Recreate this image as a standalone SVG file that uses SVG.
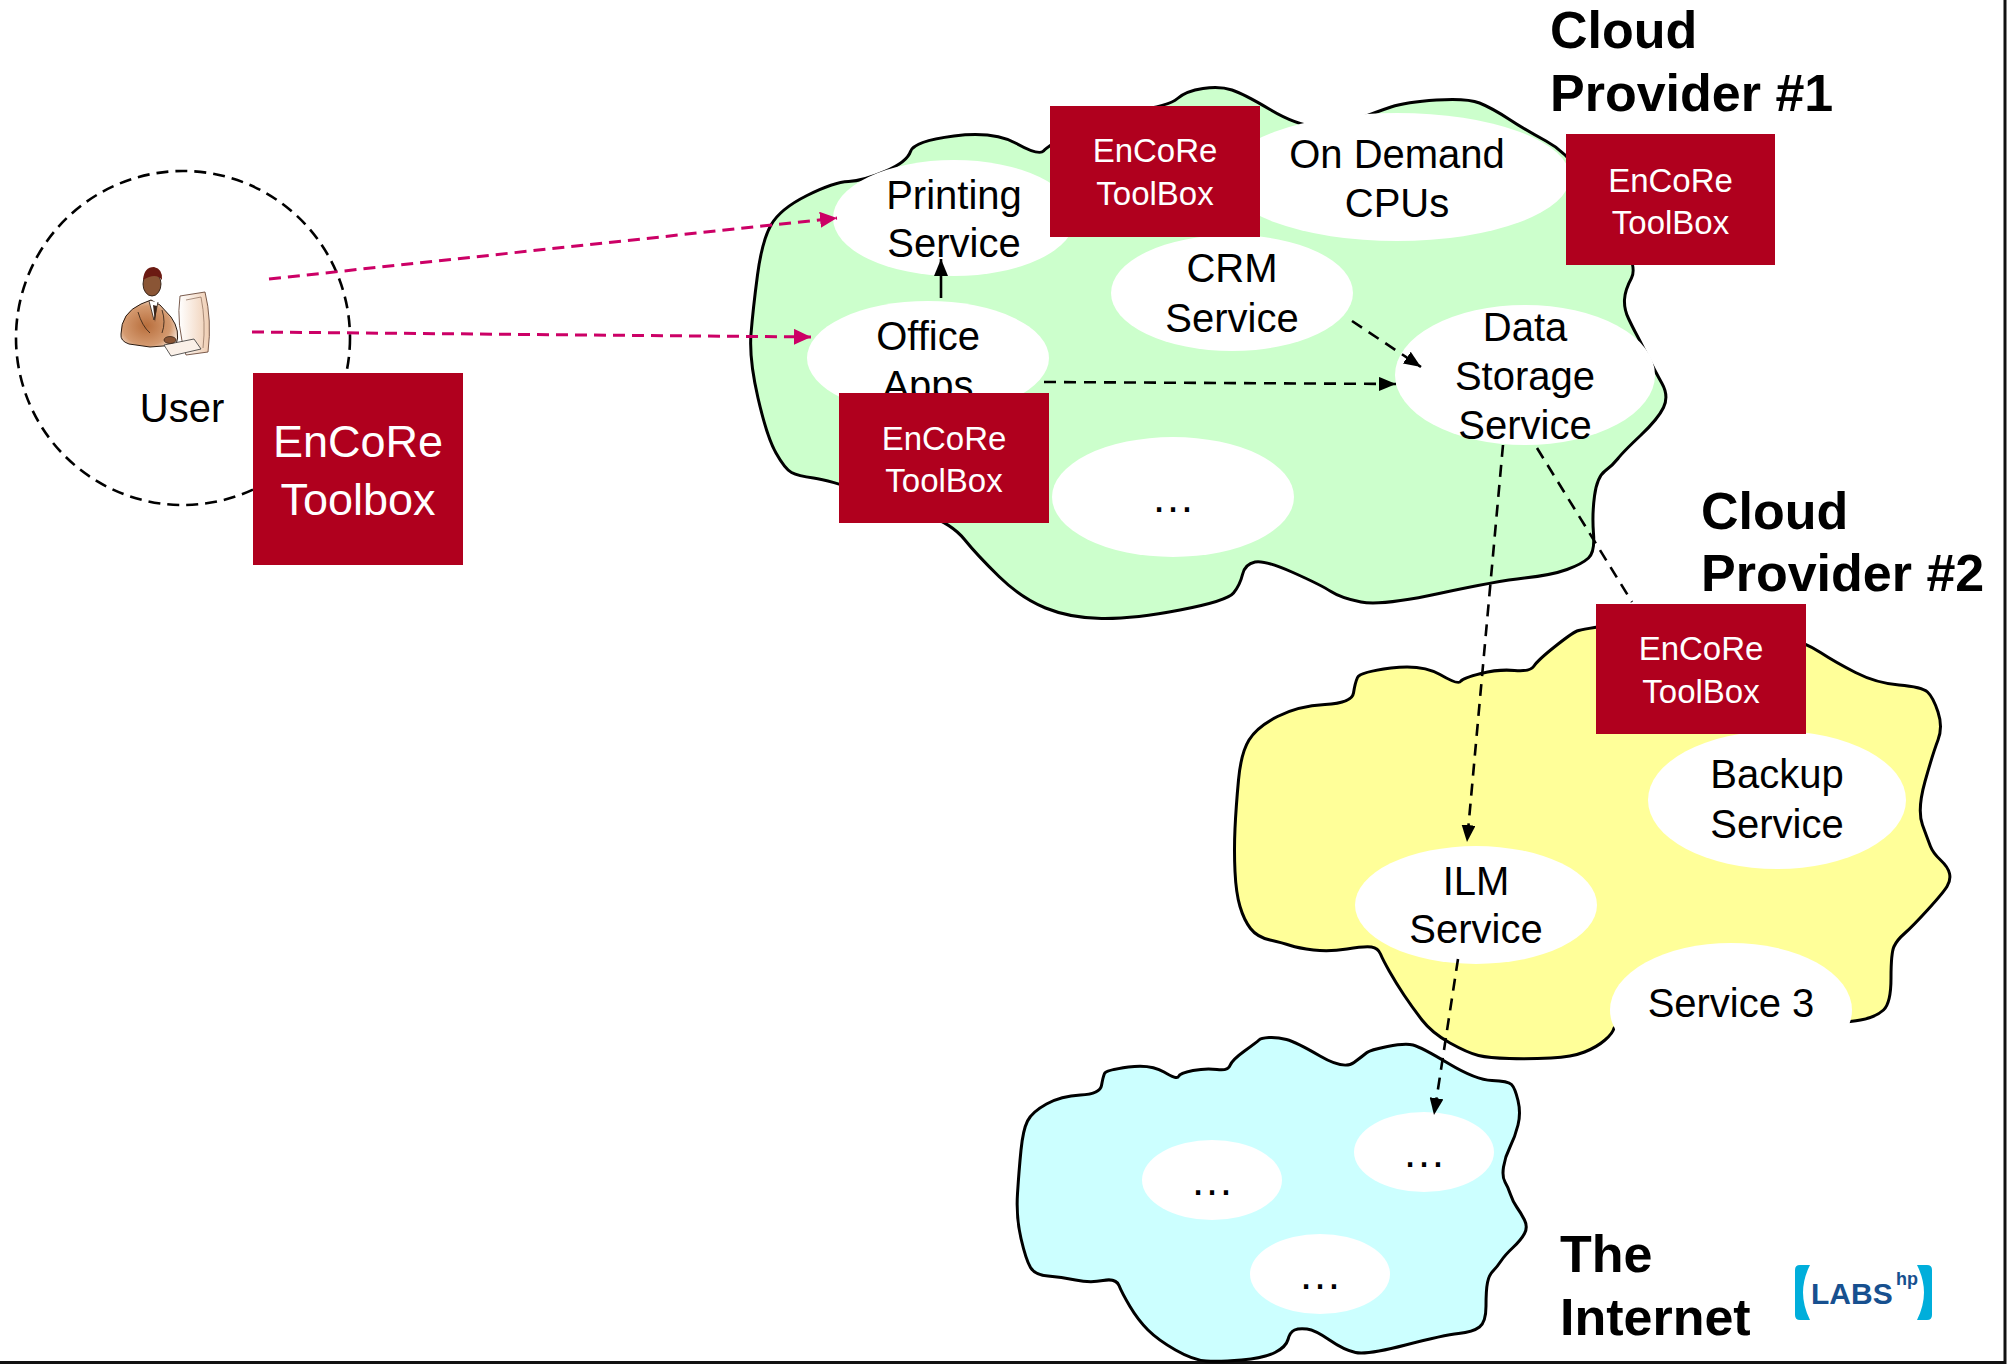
<svg xmlns="http://www.w3.org/2000/svg" width="2009" height="1365" viewBox="0 0 2009 1365">
  <defs>
    <style>
      .cloud { stroke: #000; stroke-width: 3; stroke-linejoin: round; }
      .svc { fill: #fff; stroke: none; }
      .lbl { font-family: "Liberation Sans", Arial, sans-serif; font-size: 40px; fill: #000; text-anchor: middle; }
      .dots { font-family: "Liberation Sans", Arial, sans-serif; font-size: 44px; fill: #000; text-anchor: middle; }
      .title { font-family: "Liberation Sans", Arial, sans-serif; font-size: 52px; font-weight: bold; fill: #000; }
      .box { fill: #B0001E; }
      .boxtxt { font-family: "Liberation Sans", Arial, sans-serif; font-size: 33px; fill: #fff; text-anchor: middle; }
      .pink { fill: none; stroke: #CC0066; stroke-width: 3; stroke-dasharray: 12 7; }
      .dash { fill: none; stroke: #000; stroke-width: 2.6; stroke-dasharray: 12 8; }
      .solid { fill: none; stroke: #000; stroke-width: 2.6; }
      .logo { font-family: "Liberation Sans", Arial, sans-serif; font-weight: bold; fill: #17508F; }
    </style>
    <marker id="headPink" markerUnits="userSpaceOnUse" markerWidth="17" markerHeight="16" refX="17" refY="8" orient="auto">
      <path d="M0,0 L17,8 L0,16 Z" fill="#CC0066"/>
    </marker>
    <marker id="headBlack" markerUnits="userSpaceOnUse" markerWidth="17" markerHeight="14" refX="17" refY="7" orient="auto">
      <path d="M0,0 L17,7 L0,14 Z" fill="#000"/>
    </marker>
    <radialGradient id="suit" cx="0.45" cy="0.55" r="0.6">
      <stop offset="0" stop-color="#B86E3C"/>
      <stop offset="0.7" stop-color="#D49A70"/>
      <stop offset="1" stop-color="#F6E4D6"/>
    </radialGradient>
    <linearGradient id="monitor" x1="0" y1="0" x2="1" y2="0">
      <stop offset="0" stop-color="#FFFFFF"/>
      <stop offset="1" stop-color="#EFCDB2"/>
    </linearGradient>
  </defs>

  <rect width="2009" height="1365" fill="#fff"/>

  <!-- page frame -->
  <line x1="2005" y1="0" x2="2005" y2="1364" stroke="#111" stroke-width="3"/>
  <line x1="0" y1="1362.5" x2="2006" y2="1362.5" stroke="#111" stroke-width="3"/>

  <!-- Cloud Provider #1 -->
  <g id="cloud-provider-1">
    <path class="cloud" fill="#CCFFCC" d="M758,398 Q749,359 751,334 Q753,309 757.5,275 Q762,241 771,225 Q780,209 807,195.5 Q834,182 848.5,181.5 Q863,181 885,171.5 Q907,162 910.5,151.5 Q914,141 954,136 Q994,131 1016.5,143.5 Q1039,156 1043.5,151 Q1048,146 1074,130.5 Q1100,115 1134.5,110.5 Q1169,106 1177.5,98.5 Q1186,91 1203,88.5 Q1220,86 1232,90 Q1244,94 1270,109.5 Q1296,125 1316,126.5 Q1336,128 1356,120 Q1376,112 1391,107 Q1406,102 1436.5,100 Q1467,98 1479.5,103 Q1492,108 1509.5,119.5 Q1527,131 1546,141 Q1565,151 1582.5,175.5 Q1600,200 1619,233 Q1638,266 1631.5,278 Q1625,290 1624.5,299.5 Q1624,309 1628.5,318.5 Q1633,328 1636,333.5 Q1639,339 1647,355 Q1655,371 1662,383.5 Q1669,396 1663.5,407.5 Q1658,419 1640.5,435.5 Q1623,452 1618,458.5 Q1613,465 1605,471 Q1597,477 1594.5,496 Q1592,515 1593.5,533.5 Q1595,552 1588.5,558 Q1582,564 1567,569.5 Q1552,575 1524.5,578 Q1497,581 1439,593.5 Q1381,606 1361,602 Q1341,598 1331,591.5 Q1321,585 1293,572.5 Q1265,560 1255,562 Q1245,564 1242.5,574.5 Q1240,585 1233.5,593 Q1227,601 1180,610 Q1133,619 1101.5,618.5 Q1070,618 1045.5,608 Q1021,598 999,576.5 Q977,555 964.5,539.5 Q952,524 926,514.5 Q900,505 864.5,492.5 Q829,480 813.5,478 Q798,476 791.5,472.5 Q785,469 776,453 Q767,437 758,398 Z"/>
    <text class="title" x="1550" y="48">Cloud</text>
    <text class="title" x="1550" y="111">Provider #1</text>
  </g>

  <!-- Cloud Provider #2 -->
  <g id="cloud-provider-2">
    <path class="cloud" fill="#FFFF99" d="M1357.5,677.5 Q1360,672 1391,668 Q1422,664 1440,674.5 Q1458,685 1460.5,681.5 Q1463,678 1481,673.5 Q1499,669 1514.5,670.5 Q1530,672 1534,666 Q1538,660 1555,646.5 Q1572,633 1577,631 Q1582,629 1616,624.5 Q1650,620 1700,622.5 Q1750,625 1778,634 Q1806,643 1820.5,652.5 Q1835,662 1855.5,672.5 Q1876,683 1899,685 Q1922,687 1927.5,692 Q1933,697 1938,712 Q1943,727 1938,740 Q1933,753 1925,781.5 Q1917,810 1922.5,825 Q1928,840 1930.5,846.5 Q1933,853 1940.5,860 Q1948,867 1949.5,873.5 Q1951,880 1947,886.5 Q1943,893 1927.5,910 Q1912,927 1904.5,933.5 Q1897,940 1894,946.5 Q1891,953 1891,978 Q1891,1003 1883.5,1010 Q1876,1017 1860.5,1020 Q1845,1023 1788,1026.5 Q1731,1030 1673,1026.5 Q1615,1023 1614,1028 Q1613,1033 1605,1040 Q1597,1047 1584.5,1052 Q1572,1057 1551,1058 Q1530,1059 1509.5,1058.5 Q1489,1058 1478.5,1055.5 Q1468,1053 1450,1043 Q1432,1033 1422,1020 Q1412,1007 1404,995 Q1396,983 1389.5,971.5 Q1383,960 1380.5,954 Q1378,948 1371.5,947 Q1365,946 1347,949 Q1329,952 1313.5,950 Q1298,948 1290.5,945.5 Q1283,943 1270,940 Q1257,937 1250.5,928.5 Q1244,920 1240,906.5 Q1236,893 1235,871.5 Q1234,850 1235,828.5 Q1236,807 1238.5,780 Q1241,753 1249,740 Q1257,727 1277.5,716.5 Q1298,706 1325,704.5 Q1352,703 1353.5,693 Q1355,683 1357.5,677.5 Z"/>
    <text class="title" x="1701" y="529">Cloud</text>
    <text class="title" x="1701" y="591">Provider #2</text>
  </g>

  <!-- The Internet -->
  <g id="internet">
    <path class="cloud" fill="#CCFFFF" d="M1104.5,1073.5 Q1106,1070 1128.5,1067 Q1151,1064 1164,1072 Q1177,1080 1178.5,1076.5 Q1180,1073 1193,1070.5 Q1206,1068 1217,1069.5 Q1228,1071 1230,1065.5 Q1232,1060 1244.5,1051 Q1257,1042 1259,1040 Q1261,1038 1269,1037.5 Q1277,1037 1286.5,1039.5 Q1296,1042 1320,1056 Q1344,1070 1354,1062.5 Q1364,1055 1367,1052.5 Q1370,1050 1387.5,1046.5 Q1405,1043 1413,1045 Q1421,1047 1448.5,1063.5 Q1476,1080 1492,1080.5 Q1508,1081 1511.5,1084.5 Q1515,1088 1518,1100.5 Q1521,1113 1518,1125 Q1515,1137 1510,1147 Q1505,1157 1503.5,1167 Q1502,1177 1505,1182 Q1508,1187 1510.5,1194.5 Q1513,1202 1517,1207.5 Q1521,1213 1524.5,1220 Q1528,1227 1524.5,1233.5 Q1521,1240 1513,1247.5 Q1505,1255 1501,1261 Q1497,1267 1493,1271 Q1489,1275 1487.5,1282.5 Q1486,1290 1486,1306 Q1486,1322 1479.5,1327 Q1473,1332 1458.5,1333.5 Q1444,1335 1405.5,1345 Q1367,1355 1355.5,1352.5 Q1344,1350 1329.5,1340 Q1315,1330 1307,1329 Q1299,1328 1294.5,1330 Q1290,1332 1288,1339.5 Q1286,1347 1275,1352.5 Q1264,1358 1241.5,1360 Q1219,1362 1206,1361 Q1193,1360 1175.5,1350 Q1158,1340 1148,1330 Q1138,1320 1130,1306.5 Q1122,1293 1119,1285.5 Q1116,1278 1103,1280.5 Q1090,1283 1075.5,1280 Q1061,1277 1048,1276 Q1035,1275 1030.5,1267.5 Q1026,1260 1021,1238.5 Q1016,1217 1017.5,1193.5 Q1019,1170 1021,1150 Q1023,1130 1027.5,1121 Q1032,1112 1046.5,1104 Q1061,1096 1080.5,1095 Q1100,1094 1101.5,1085.5 Q1103,1077 1104.5,1073.5 Z"/>
    <text class="title" x="1560" y="1272">The</text>
    <text class="title" x="1560" y="1335">Internet</text>
  </g>

  <!-- services, provider #1 -->
  <g id="svc-printing">
    <ellipse class="svc" cx="954" cy="218" rx="121" ry="58"/>
    <text class="lbl" x="954" y="209">Printing</text>
    <text class="lbl" x="954" y="257">Service</text>
  </g>
  <g id="svc-office">
    <ellipse class="svc" cx="928" cy="358" rx="121" ry="57"/>
    <text class="lbl" x="928" y="350">Office</text>
    <text class="lbl" x="928" y="399">Apps</text>
  </g>
  <g id="svc-crm">
    <ellipse class="svc" cx="1232" cy="293" rx="121" ry="58"/>
    <text class="lbl" x="1232" y="282">CRM</text>
    <text class="lbl" x="1232" y="332">Service</text>
  </g>
  <g id="svc-cpus">
    <ellipse class="svc" cx="1397" cy="177" rx="173" ry="64"/>
    <text class="lbl" x="1397" y="168">On Demand</text>
    <text class="lbl" x="1397" y="217">CPUs</text>
  </g>
  <g id="svc-storage">
    <ellipse class="svc" cx="1525" cy="375" rx="130" ry="70"/>
    <text class="lbl" x="1525" y="341">Data</text>
    <text class="lbl" x="1525" y="390">Storage</text>
    <text class="lbl" x="1525" y="439">Service</text>
  </g>
  <g id="svc-other-1">
    <ellipse class="svc" cx="1173" cy="497" rx="121" ry="60"/>
    <text class="dots" x="1173" y="512">…</text>
  </g>

  <!-- services, provider #2 -->
  <g id="svc-backup">
    <ellipse class="svc" cx="1777" cy="800" rx="129" ry="69"/>
    <text class="lbl" x="1777" y="788">Backup</text>
    <text class="lbl" x="1777" y="838">Service</text>
  </g>
  <g id="svc-ilm">
    <ellipse class="svc" cx="1476" cy="905" rx="121" ry="59"/>
    <text class="lbl" x="1476" y="895">ILM</text>
    <text class="lbl" x="1476" y="943">Service</text>
  </g>
  <g id="svc-3">
    <ellipse class="svc" cx="1731" cy="1010" rx="121" ry="67"/>
    <text class="lbl" x="1731" y="1017">Service 3</text>
  </g>

  <!-- internet services -->
  <g id="net-1">
    <ellipse class="svc" cx="1212" cy="1180" rx="70" ry="40"/>
    <text class="dots" x="1212" y="1195">…</text>
  </g>
  <g id="net-2">
    <ellipse class="svc" cx="1424" cy="1152" rx="70" ry="40"/>
    <text class="dots" x="1424" y="1167">…</text>
  </g>
  <g id="net-3">
    <ellipse class="svc" cx="1320" cy="1274" rx="70" ry="40"/>
    <text class="dots" x="1320" y="1289">…</text>
  </g>

  <!-- user -->
  <g id="user">
    <circle cx="183" cy="338" r="167" fill="none" stroke="#000" stroke-width="2.6" stroke-dasharray="12 7"/>
    <g id="user-icon" stroke-linejoin="round">
      <path d="M180,296 L205,292 Q212,320 208,352 L186,355 Q176,325 180,296 Z" fill="url(#monitor)" stroke="#6B4A3A" stroke-width="0.9"/>
      <path d="M186,300 L201,297 Q206,322 203,348" fill="none" stroke="#8A6A58" stroke-width="0.7"/>
      <path d="M121,334 Q121,313 141,304 L151,300 L160,305 L171,317 Q181,331 176,345 L150,347 L129,344 Q120,341 121,334 Z" fill="url(#suit)" stroke="#2A1A10" stroke-width="1"/>
      <path d="M149,301 L154,320 L158,302" fill="#fff" stroke="#2A1A10" stroke-width="0.8"/>
      <path d="M153,305 L155,322 L157,306" fill="#3A2418" stroke="none"/>
      <path d="M138,312 Q142,326 150,333 M162,310 Q166,322 162,333" fill="none" stroke="#2A1A10" stroke-width="0.8"/>
      <ellipse cx="152" cy="284" rx="9" ry="12" fill="#8A5535" stroke="#2A1A10" stroke-width="0.9"/>
      <path d="M143,280 Q144,267 154,267 Q163,269 162,280 Q156,272 143,280 Z" fill="#6B1A12"/>
      <path d="M164,345 L194,339 L201,349 L171,356 Z" fill="#FAF0E8" stroke="#333" stroke-width="0.8"/>
      <ellipse cx="170" cy="340" rx="6" ry="3.5" fill="#8A5535" stroke="#2A1A10" stroke-width="0.7"/>
    </g>
    <text class="lbl" x="182" y="422">User</text>
  </g>

  <!-- connectors -->
  <g id="connectors">
    <path class="pink" d="M269,279 L837,218" marker-end="url(#headPink)"/>
    <path class="pink" d="M252,332 L811,337" marker-end="url(#headPink)"/>
    <path class="solid" d="M941,298 L941,259" marker-end="url(#headBlack)"/>
    <path class="dash" d="M1044,382 L1396,384" marker-end="url(#headBlack)"/>
    <path class="dash" d="M1352,321 L1421,367" marker-end="url(#headBlack)"/>
    <path class="dash" d="M1503,445 L1467,842" marker-end="url(#headBlack)"/>
    <path class="dash" d="M1537,448 L1632,602"/>
    <path class="dash" d="M1458,959 L1434,1115" marker-end="url(#headBlack)"/>
  </g>

  <!-- EnCoRe toolbox badges -->
  <g id="toolbox-user">
    <rect class="box" x="253" y="373" width="210" height="192"/>
    <text class="boxtxt" style="font-size:45px" x="358" y="457">EnCoRe</text>
    <text class="boxtxt" style="font-size:45px" x="358" y="515">Toolbox</text>
  </g>
  <g id="toolbox-p1-a">
    <rect class="box" x="1050" y="106" width="210" height="131"/>
    <text class="boxtxt" x="1155" y="162">EnCoRe</text>
    <text class="boxtxt" x="1155" y="205">ToolBox</text>
  </g>
  <g id="toolbox-p1-b">
    <rect class="box" x="1566" y="134" width="209" height="131"/>
    <text class="boxtxt" x="1670.5" y="192">EnCoRe</text>
    <text class="boxtxt" x="1670.5" y="234">ToolBox</text>
  </g>
  <g id="toolbox-p1-c">
    <rect class="box" x="839" y="393" width="210" height="130"/>
    <text class="boxtxt" x="944" y="450">EnCoRe</text>
    <text class="boxtxt" x="944" y="492">ToolBox</text>
  </g>
  <g id="toolbox-p2">
    <rect class="box" x="1596" y="604" width="210" height="130"/>
    <text class="boxtxt" x="1701" y="660">EnCoRe</text>
    <text class="boxtxt" x="1701" y="703">ToolBox</text>
  </g>

  <!-- lab logo -->
  <g id="labs-logo">
    <path d="M1810,1265 L1800,1265 Q1795,1265 1795,1270 L1795,1315 Q1795,1320 1800,1320 L1810,1320 Q1803,1306 1803,1292.5 Q1803,1279 1810,1265 Z" fill="#00AEDB"/>
    <path d="M1917,1265 L1927,1265 Q1932,1265 1932,1270 L1932,1315 Q1932,1320 1927,1320 L1917,1320 Q1924,1306 1924,1292.5 Q1924,1279 1917,1265 Z" fill="#00AEDB"/>
    <text class="logo" x="1811" y="1304" font-size="30">LABS</text>
    <text class="logo" x="1896" y="1285" font-size="18">hp</text>
  </g>
</svg>
